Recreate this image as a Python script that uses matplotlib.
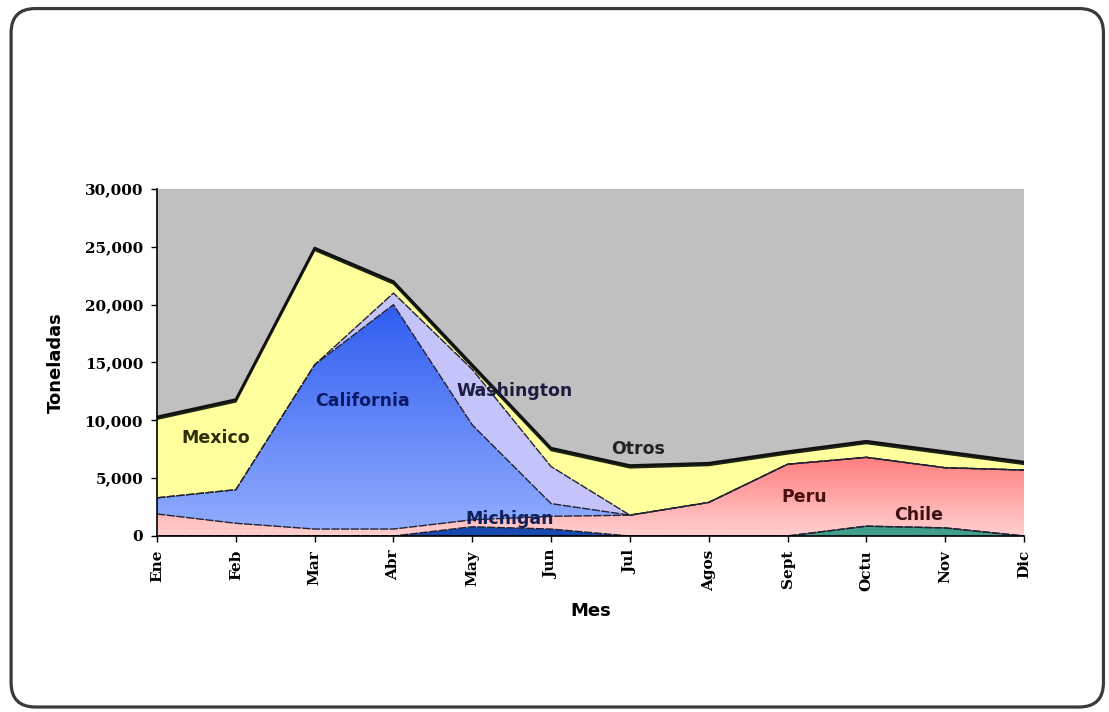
import matplotlib.pyplot as plt
import numpy as np
from matplotlib.patches import FancyBboxPatch
from matplotlib.colors import LinearSegmentedColormap

# Toneladas por mes y por origen
meses = ['Ene', 'Feb', 'Mar', 'Abr', 'May', 'Jun', 'Jul', 'Agos', 'Sept', 'Octu', 'Nov', 'Dic']
chile = [0, 0, 0, 0, 0, 0, 0, 0, 0, 850, 700, 0]
michigan = [0, 0, 0, 0, 800, 600, 0, 0, 0, 0, 0, 0]
peru = [1900, 1100, 600, 600, 600, 1100, 1800, 2900, 6200, 5950, 5200, 5700]
california = [1400, 2900, 14200, 19400, 8200, 1100, 0, 0, 0, 0, 0, 0]
washington = [0, 0, 0, 1000, 4800, 3200, 0, 0, 0, 0, 0, 0]
mexico = [6800, 7600, 9900, 800, 200, 1400, 4100, 3200, 900, 1200, 1200, 500]
otros = [200, 200, 200, 200, 200, 200, 200, 200, 200, 200, 200, 200]

capas = [('Chile', chile, '#3f9e8c'),
         ('Michigan', michigan, '#1747b0'),
         ('Peru', peru, None),
         ('California', california, None),
         ('Washington', washington, '#c4c4fa'),
         ('Mexico', mexico, '#ffff9e'),
         ('Otros', otros, '#1d2614')]

fig = plt.figure(figsize=(11.09, 7.12), dpi=100)
fig.patch.set_facecolor('white')

# marco redondeado
marco = FancyBboxPatch((0.010, 0.007), 0.985, 0.981, boxstyle='round,pad=0,rounding_size=0.022',
                       transform=fig.transFigure, facecolor='none', edgecolor='#3a3a3a',
                       linewidth=2.3, mutation_aspect=1109 / 712, zorder=-1)
fig.patches.append(marco)

ax = fig.add_axes([0.1416, 0.2472, 0.7817, 0.4874])
ax.set_facecolor('#c0c0c0')
x = np.arange(len(meses))

base = np.zeros(len(meses))
tops = []
for nombre, vals, color in capas:
    top = base + np.array(vals)
    if color is not None:
        ax.fill_between(x, base, top, facecolor=color, edgecolor='none', zorder=2)
    else:
        # degradado vertical para Peru y California
        poly = ax.fill_between(x, base, top, facecolor='none', edgecolor='none', zorder=2)
        if nombre == 'Peru':
            cmap = LinearSegmentedColormap.from_list('p', ['#ffd0d0', '#ff7c7c'])
            ymax = 7000
        else:
            cmap = LinearSegmentedColormap.from_list('c', ['#93afff', '#2f5cef'])
            ymax = 20000
        grad = np.linspace(0, 1, 256).reshape(-1, 1)
        im = ax.imshow(grad, cmap=cmap, origin='lower', aspect='auto',
                       extent=[0, 11, 0, ymax], zorder=2)
        im.set_clip_path(poly.get_paths()[0], transform=ax.transData)
    tops.append(top)
    base = top

# bordes de cada capa
for i, top in enumerate(tops):
    if i == len(tops) - 1:
        ax.plot(x, top, color='#111111', lw=1.8, zorder=4)
    elif i == len(tops) - 2:
        ax.plot(x, top, color='#1d2614', lw=1.2, zorder=3)
    else:
        ax.plot(x, top, color='#222233', lw=1.0, ls=(0, (6, 1)), zorder=3)

ax.set_xlim(0, 11)
ax.set_ylim(0, 30000)
ax.set_yticks(np.arange(0, 30001, 5000))
ax.set_yticklabels(['0', '5,000', '10,000', '15,000', '20,000', '25,000', '30,000'],
                   family='DejaVu Serif', fontweight='bold', fontsize=11)
ax.set_xticks(x)
ax.set_xticklabels(meses, rotation=90, family='DejaVu Serif', fontweight='bold',
                   fontsize=11, va='top')
ax.tick_params(axis='both', direction='out', length=4, width=1, colors='black')
ax.tick_params(axis='x', pad=6)
ax.tick_params(axis='y', pad=6)
for s in ['top', 'right']:
    ax.spines[s].set_visible(False)
for s in ['left', 'bottom']:
    ax.spines[s].set_color('black')
    ax.spines[s].set_linewidth(1.2)
    ax.spines[s].set_zorder(5)

ax.set_ylabel('Toneladas', family='DejaVu Sans', fontweight='bold', fontsize=13, labelpad=14)
ax.set_xlabel('Mes', family='DejaVu Sans', fontweight='bold', fontsize=13, labelpad=8)

# nombres sobre las areas
etiquetas = [('Mexico', 0.74, 8500, '#2e2e08'),
             ('California', 2.61, 11700, '#0b1a66'),
             ('Washington', 4.54, 12500, '#1c1c40'),
             ('Otros', 6.1, 7500, '#222222'),
             ('Michigan', 4.48, 1500, '#10205a'),
             ('Peru', 8.21, 3400, '#4a1010'),
             ('Chile', 9.66, 1800, '#3a1010')]
for txt, xx, yy, c in etiquetas:
    ax.text(xx, yy, txt, ha='center', va='center', fontsize=12.5, fontweight='bold',
            family='DejaVu Sans', color=c, zorder=6)

fig.savefig('out.png', dpi=100)
